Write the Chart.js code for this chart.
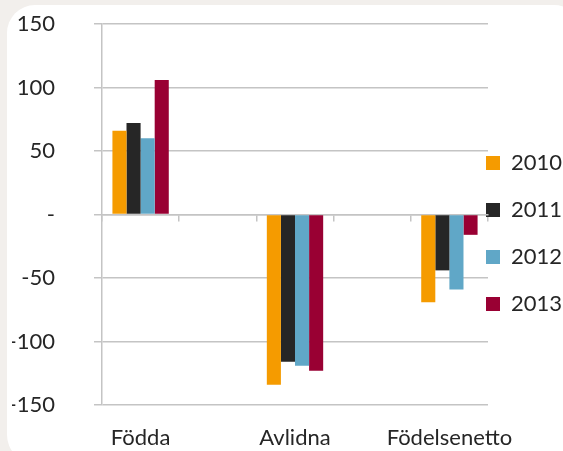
<!DOCTYPE html>
<html>
<head>
<meta charset="utf-8">
<script src="https://cdn.jsdelivr.net/npm/chart.js@4"></script>
<style>
  html, body { margin: 0; padding: 0; }
  body { width: 563px; height: 451px; background: #f2efec; position: relative; overflow: hidden; }
  .card { position: absolute; left: 7px; top: 5px; width: 575px; height: 458px; background: #fff; border-radius: 28px; }
  .wrap { position: absolute; left: 0; top: 0; width: 563px; height: 451px; }
</style>
</head>
<body>
<div class="card"></div>
<div class="wrap"><canvas id="myChart" width="563" height="451"></canvas></div>
<script>

// categories (the blank ones are the empty slots between the groups)
const categories = ['Födda', '', 'Avlidna', '', 'Födelsenetto'];
const years = ['2010', '2011', '2012', '2013'];

const values2010 = [66, null, -134, null, -69];
const values2011 = [72, null, -116, null, -44];
const values2012 = [60, null, -119, null, -59];
const values2013 = [106, null, -123, null, -16];

const yTicks = [-150, -100, -50, 0, 50, 100, 150];

const colors = ['#f59b00', '#262626', '#60a7c7', '#990033'];
const font = { family: 'Lato', size: 22 };
const textColor = '#262626';
const gridColor = '#c4c4c4';

// legend sits inside the plot, over its right edge, like the original
const legendShift = {
    id: 'legendShift',
    afterLayout(chart) {
        const lg = chart.legend;
        const w = lg.width;
        lg.left = chart.chartArea.right - 27;
        lg.right = lg.left + w;
        lg.top += 43;
        lg.bottom += 43;
    }
};

const ctx = document.getElementById('myChart');

new Chart(ctx, {
    type: 'bar',
    data: {
        labels: categories,
        datasets: [
            { label: years[0], data: values2010, backgroundColor: colors[0] },
            { label: years[1], data: values2011, backgroundColor: colors[1] },
            { label: years[2], data: values2012, backgroundColor: colors[2] },
            { label: years[3], data: values2013, backgroundColor: colors[3] }
        ]
    },
    options: {
        responsive: false,
        animation: false,
        events: [],
        categoryPercentage: 0.73,
        barPercentage: 1.0,
        layout: {
            padding: { left: 12, top: 24, right: 75, bottom: 0 }
        },
        scales: {
            x: {
                grid: { display: false },
                border: { display: false },
                ticks: { font: font, color: textColor, padding: 12, maxRotation: 0, autoSkip: false },
                afterFit: axis => { axis.height = 46; }
            },
            x2: {
                type: 'category',
                labels: categories,
                position: { y: 0 },
                offset: true,
                grid: { offset: true, drawOnChartArea: false, tickLength: 6, color: gridColor, lineWidth: 1.5 },
                border: { display: true, color: gridColor, width: 1.5 },
                ticks: { display: false }
            },
            y: {
                min: -150,
                max: 150,
                afterBuildTicks: axis => { axis.ticks = yTicks.map(v => ({ value: v })); },
                afterFit: axis => {
                    axis.width = 90;
                    axis.paddingTop = 0;
                    axis.paddingBottom = 0;
                },
                grid: { color: gridColor, lineWidth: 1.5, tickLength: 8 },
                border: { color: gridColor, width: 1.5 },
                ticks: {
                    font: font,
                    color: textColor,
                    padding: 39,
                    callback: v => v === 0 ? '-' : v
                }
            }
        },
        plugins: {
            legend: {
                position: 'chartArea',
                labels: {
                    font: font,
                    color: textColor,
                    boxWidth: 14,
                    boxHeight: 14,
                    padding: 25
                }
            },
            tooltip: { enabled: false }
        }
    },
    plugins: [legendShift]
});
</script>
</body>
</html>
